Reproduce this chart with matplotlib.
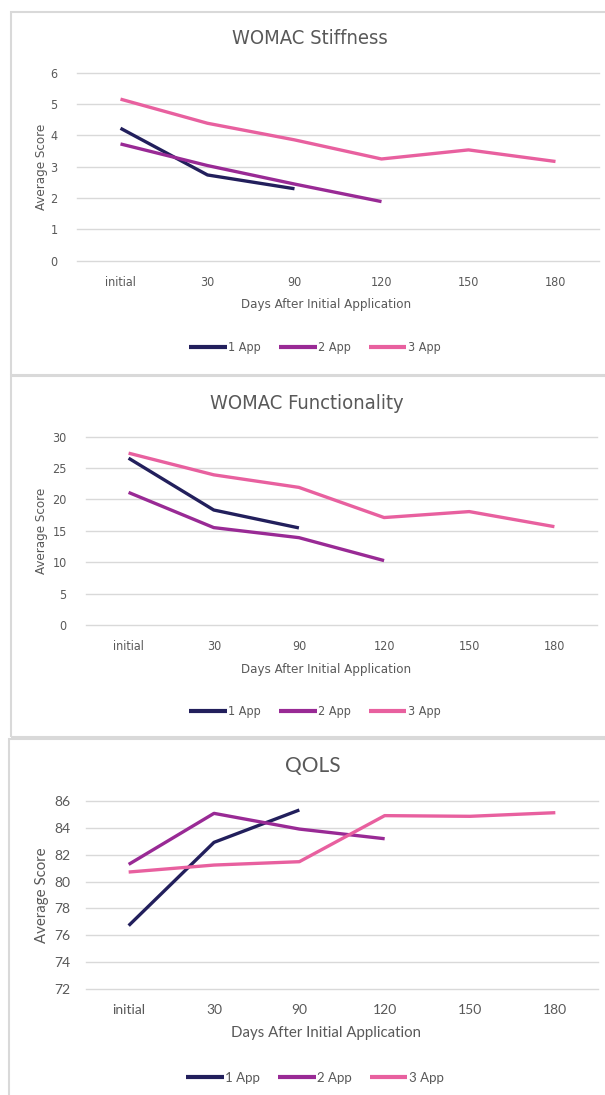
"""Line charts of average WOMAC / QOLS scores by number of applications."""

import matplotlib.pyplot as plt
from matplotlib.patches import Rectangle
from matplotlib.font_manager import FontProperties

days = ['initial', '30', '90', '120', '150', '180']
series_names = ['1 App', '2 App', '3 App']
colors = ['#221f5c', '#992a95', '#e8609f']

stiff_1 = [4.22, 2.73, 2.29]
stiff_2 = [3.72, 3.03, 2.44, 1.88]
stiff_3 = [5.15, 4.38, 3.85, 3.24, 3.53, 3.16]

func_1 = [26.55, 18.3, 15.45]
func_2 = [21.1, 15.5, 13.9, 10.25]
func_3 = [27.35, 23.9, 21.9, 17.1, 18.05, 15.65]

qols_1 = [76.72, 82.92, 85.33]
qols_2 = [81.28, 85.08, 83.91, 83.19]
qols_3 = [80.71, 81.23, 81.48, 84.91, 84.86, 85.13]

W, H = 605, 1095
TXT = '#595959'
GRID = '#d9d9d9'

fig = plt.figure(figsize=(W / 100, H / 100), dpi=100)


def fx(x):
    return x / W


def fy(y):
    return 1 - y / H


def panel(box, ax_box, title_pos, title, data, ylim, yticks, font, sizes,
          text_y, ypad):
    box_left, box_top, box_bottom = box
    left, right, ax_top, ax_bottom = ax_box
    tick_size, label_size, leg_size, title_size = sizes
    xlab_y, leg_y = text_y

    # light frame round each chart
    fig.patches.append(Rectangle((fx(box_left), fy(box_bottom)), fx(W + 5 - box_left),
                                 (box_bottom - box_top) / H, transform=fig.transFigure,
                                 fill=False, edgecolor=GRID, lw=1.5))
    ax = fig.add_axes([fx(left), fy(ax_bottom), fx(right - left), (ax_bottom - ax_top) / H])
    for vals, name, c in zip(data, series_names, colors):
        ax.plot(range(len(vals)), vals, color=c, lw=2.4, label=name,
                solid_capstyle='butt', solid_joinstyle='round')
    ax.set_xlim(-0.5, len(days) - 0.5)
    ax.set_ylim(*ylim)
    ax.set_yticks(yticks)
    ax.set_xticks(range(len(days)))
    ax.set_xticklabels(days)
    ax.grid(axis='y', color=GRID, lw=1.0)
    for g in ax.get_ygridlines():
        g.set_clip_on(False)
    ax.set_axisbelow(True)
    for s in ax.spines.values():
        s.set_visible(False)
    ax.tick_params(length=0, colors=TXT)
    ax.tick_params(axis='y', pad=ypad)
    ax.tick_params(axis='x', pad=11)
    for lab in ax.get_xticklabels() + ax.get_yticklabels():
        lab.set_fontproperties(font)
        lab.set_size(tick_size)

    fig.text(fx(title_pos[0]), fy(title_pos[1]), title, ha='center', va='center',
             color=TXT, fontproperties=font).set_size(title_size)
    fig.text(fx(42), fy((ax_top + ax_bottom) / 2), 'Average Score', rotation=90,
             ha='center', va='center', color=TXT, fontproperties=font).set_size(label_size)
    fig.text(fx(326), fy(xlab_y), 'Days After Initial Application',
             ha='center', va='center', color=TXT, fontproperties=font).set_size(label_size)
    leg = ax.legend(loc='center', bbox_to_anchor=(fx(315), fy(leg_y)),
                    bbox_transform=fig.transFigure, ncol=3, frameon=False,
                    handlelength=2.7, handletextpad=0.1, columnspacing=1.3,
                    prop=font)
    for t in leg.get_texts():
        t.set_color(TXT)
        t.set_size(leg_size)
    for h in leg.get_lines():
        h.set_linewidth(3)


narrow = FontProperties(family=['DejaVu Sans'], stretch='condensed')
wide = FontProperties(family=['Lato', 'DejaVu Sans'])

panel((11, 12, 375), (77, 599, 72.5, 260.5), (310, 38), 'WOMAC Stiffness',
      [stiff_1, stiff_2, stiff_3], (0, 6), range(0, 7), narrow,
      (9, 9.5, 9, 14.5), (305, 348), 14)
panel((11, 376, 737), (86, 597, 436.5, 625), (307, 403), 'WOMAC Functionality',
      [func_1, func_2, func_3], (0, 30), range(0, 31, 5), narrow,
      (9, 9.5, 9, 14.5), (669, 712), 14)
panel((9, 739, 1100), (86, 598, 801, 989), (313, 766), 'QOLS',
      [qols_1, qols_2, qols_3], (72, 86), range(72, 87, 2), wide,
      (10, 10.8, 9.5, 15), (1033, 1078), 11)

fig.savefig('out.png', dpi=100, facecolor='white')
